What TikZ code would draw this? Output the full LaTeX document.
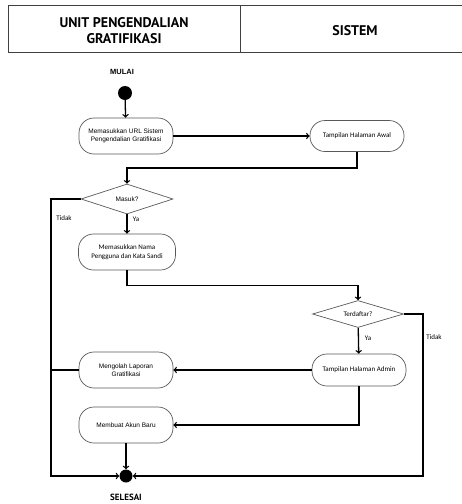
\documentclass[tikz,border=0pt]{standalone}
\usepackage{fontspec}
\setmainfont{Liberation Sans}
\newfontfamily\headfont{PT Sans}
\newfontfamily\calfont{Carlito}
\usetikzlibrary{positioning,shapes.geometric,arrows}

\tikzset{
  act/.style={draw=black!65, line width=0.7pt, rounded corners=15pt,
    minimum width=94pt, minimum height=36pt, align=center, inner sep=2pt,
    font=\fontsize{6.5}{8.5}\selectfont},
  cond/.style={draw=black!65, line width=0.7pt, diamond, aspect=3, inner sep=0pt,
    minimum width=92pt, minimum height=30pt, font=\fontsize{6.5}{8}\selectfont},
  dot/.style={circle, fill=black, inner sep=0pt, minimum size=14pt},
  flow/.style={line width=1.3pt, black},
  lbl/.style={font=\calfont\fontsize{7}{8}\selectfont, inner sep=0pt},
  title/.style={font=\headfont\bfseries\fontsize{14}{16}\selectfont, align=center}
}

\begin{document}
\begin{tikzpicture}[x=1pt, y=-1pt]
\useasboundingbox (0,0) rectangle (462,504);

% header
\draw[black!75, line width=0.8pt] (462,5) -- (8,5) -- (8,52) -- (462,52);
\draw[black!75, line width=0.8pt] (240,5) -- (240,52);
\node[title] (head1) at (124,31) {UNIT PENGENDALIAN\\GRATIFIKASI};
\node[title] (head2) at (355,31) {SISTEM};

% nodes
\node[font=\bfseries\fontsize{7.5}{9}\selectfont] (mulai) at (122,72) {MULAI};
\node[dot] (start) at (125,93) {};
\node[act] (m1) at (126,136) {Memasukkan URL Sistem\\Pengendalian Gratifikasi};
\node[act, minimum height=31pt, font=\calfont\fontsize{7}{8.5}\selectfont] (awal) at (357,136) {Tampilan Halaman Awal};
\node[cond] (masuk) at (127,199) {Masuk?};
\node[act, minimum width=97pt, font=\calfont\fontsize{7}{9}\selectfont] (m2) at (127,252) {Memasukkan Nama\\Pengguna dan Kata Sandi};
\node[cond, minimum width=91pt, minimum height=27pt, font=\calfont\fontsize{7}{8}\selectfont] (daftar) at (358,314) {Terdaftar?};
\node[act, minimum height=32pt, font=\calfont\fontsize{7}{8.5}\selectfont] (admin) at (359,370) {Tampilan Halaman Admin};
\node[act] (olah) at (126,370) {Mengolah Laporan\\Gratifikasi};
\node[act] (akun) at (126,425) {Membuat Akun Baru};
\node[dot, minimum size=13pt] (stop) at (126,476) {};
\node[title, font=\headfont\bfseries\fontsize{9}{10}\selectfont] (selesai) at (126,497) {SELESAI};

\node[lbl] (tidak1) at (64,218) {Tidak};
\node[lbl] (ya1) at (136,219) {Ya};
\node[lbl] (ya2) at (368,338) {Ya};
\node[lbl] (tidak2) at (434,337) {Tidak};

\coordinate (kiri) at (51,476);
\coordinate (kanan) at (423,476);

% connectors
\draw[flow, ->] (start) -- (m1);
\draw[flow, ->] (m1) -- (awal);
\draw[flow, ->] (awal.south) -- ++(0,16) -| (masuk.north);
\draw[flow, ->] (masuk) -- (m2);
\draw[flow, ->] (m2.south) -- ++(0,15) -| (daftar.north);
\draw[flow, ->] (daftar) -- (admin);
\draw[flow, ->] (admin) -- (olah);
\draw[flow, ->] (admin.south) |- (akun.east);
\draw[flow, ->] (akun) -- (stop);
\draw[flow, ->] (masuk.west) -| (kiri) -- (stop);
\draw[flow] (olah.west) -- (olah.west -| kiri);
\draw[flow, ->] (daftar.east) -| (kanan) -- (stop);
\end{tikzpicture}
\end{document}
